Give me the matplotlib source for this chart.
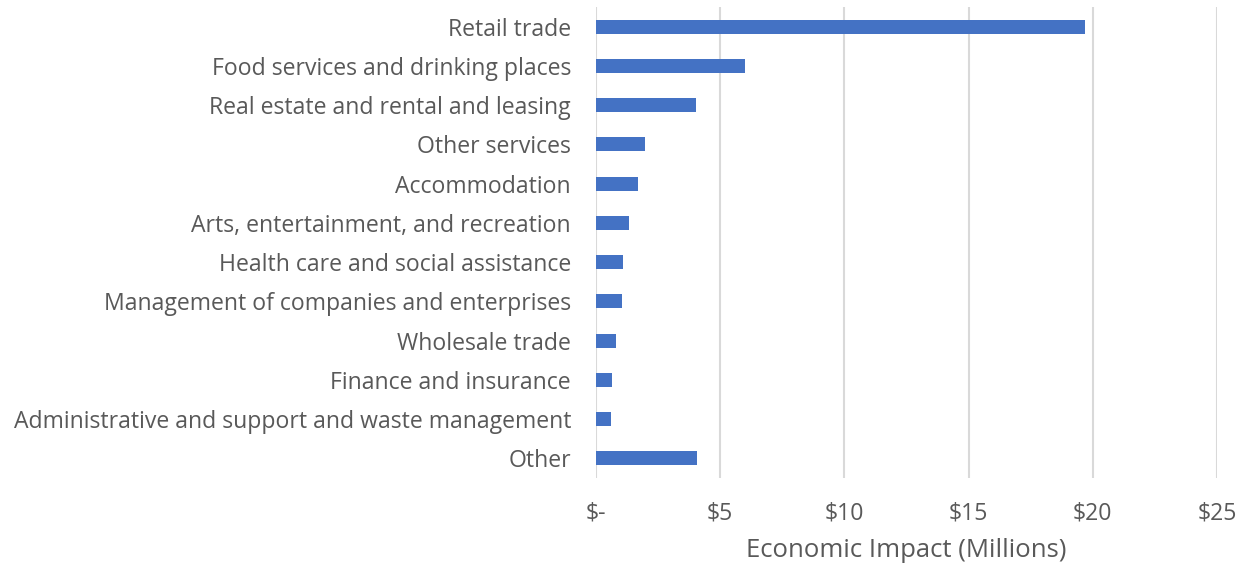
import matplotlib
matplotlib.use("Agg")
import matplotlib.pyplot as plt

categories = [
    "Retail trade",
    "Food services and drinking places",
    "Real estate and rental and leasing",
    "Other services",
    "Accommodation",
    "Arts, entertainment, and recreation",
    "Health care and social assistance",
    "Management of companies and enterprises",
    "Wholesale trade",
    "Finance and insurance",
    "Administrative and support and waste management",
    "Other",
]
values = [19.69, 5.98, 4.01, 1.97, 1.71, 1.32, 1.10, 1.04, 0.82, 0.63, 0.60, 4.06]
xticks = [0, 5, 10, 15, 20, 25]
xticklabels = ["$-", "$5", "$10", "$15", "$20", "$25"]
xlabel = "Economic Impact (Millions)"

plt.rcParams['font.family'] = ['Open Sans', 'DejaVu Sans']
text_color = "#595959"

fig = plt.figure(figsize=(12.47, 5.71), dpi=100)
ax = fig.add_axes([596/1247, 1 - 478/571, (1217 - 596)/1247, (478 - 7)/571])

y = list(range(len(categories)))
ax.barh(y, values, height=0.36, color="#4472C4", zorder=3)
ax.set_ylim(len(categories) - 0.5, -0.5)
ax.set_xlim(0, 25)
ax.set_xticks(xticks)
ax.set_xticklabels(xticklabels)
ax.set_yticks(y)
ax.set_yticklabels(categories)
for lbl in ax.get_yticklabels():
    lbl.set_verticalalignment('center_baseline')
ax.tick_params(axis='y', length=0, pad=18, labelsize=16.6, labelcolor=text_color)
ax.tick_params(axis='x', length=0, pad=17, labelsize=16.6, labelcolor=text_color)
ax.grid(axis='x', color="#d9d9d9", linewidth=1.5, zorder=0)
for s in ax.spines.values():
    s.set_visible(False)
ax.set_xlabel(xlabel, fontsize=18.5, color=text_color, labelpad=9)

fig.savefig("out.png", dpi=100)
